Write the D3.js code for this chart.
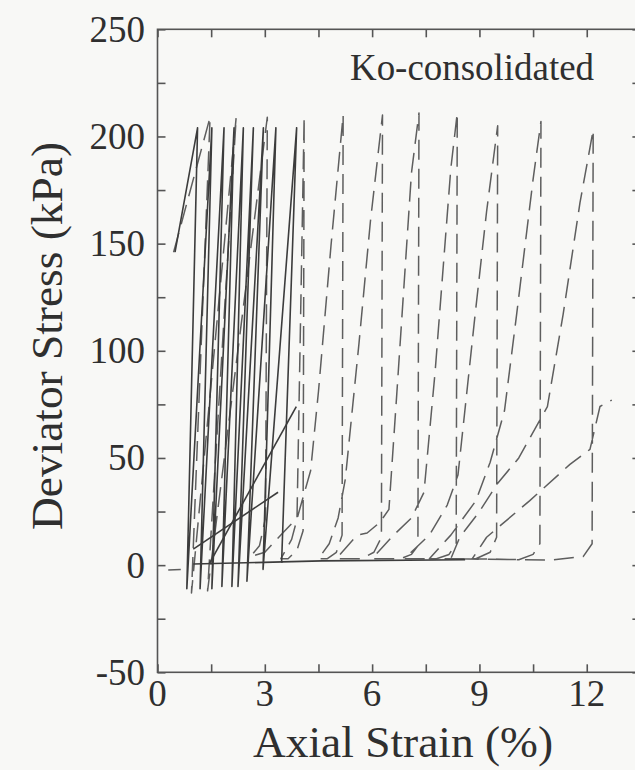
<!DOCTYPE html>
<html>
<head>
<meta charset="utf-8">
<script src="https://cdn.jsdelivr.net/npm/d3@7/dist/d3.min.js"></script>
<style>
  html, body { margin: 0; padding: 0; background: #f8f8f6; }
  svg { display: block; }
  text { font-family: "Liberation Serif", "Times New Roman", serif; fill: #2f2f2f; }
</style>
</head>
<body>
<svg id="chart" width="635" height="770"></svg>
<script>
// Axis ticks
const xMajorTicks = [0, 3, 6, 9, 12];
const xMinorTicks = [1.5, 4.5, 7.5, 10.5, 13.5];
const yMajorTicks = [-50, 0, 50, 100, 150, 200, 250];
const yMinorTicks = [-25, 25, 75, 125, 175, 225];

// Specimen A (solid line): axial strain (%) and deviator stress (kPa)
const solidStrain = [0.49, 1.12, 0.82, 1.52, 1.19, 1.86, 1.52, 2.14, 1.80, 2.40, 2.08, 2.68, 2.25, 2.96, 2.50, 3.31, 2.95, 3.89, 3.47, 4.6, 8.6];
const solidStress = [146, 204, -11, 204, -11, 204, -11, 204, -10, 204, -10, 204, -10, 204, -7.5, 204, -2, 204, 1.5, 2, 2.5];

// Specimen A, additional recorded traces
const solidTraceA = [[1.0, 7.5], [3.37, 34]];
const solidTraceB = [[1.45, 0.7], [3.88, 74]];
const solidTraceC = [[1.0, 0.5], [3.5, 1.5]];

// Specimen B (dashed line)
const dashStrain = [
  0.45, 1.47, 0.95, 2.20, 1.40, 3.07, 3.02, 2.85, 2.60,
  3.00, 3.50, 3.90, 4.10, 4.07, 3.90, 3.65, 3.45,
  3.75, 3.94, 4.28, 4.50, 4.85, 5.19, 5.16, 5.00, 4.75, 4.50,
  4.80, 5.05, 5.25, 5.63, 5.95, 6.29, 6.26, 6.05, 5.70, 5.00,
  5.58, 5.86, 6.22, 6.47, 6.69, 7.10, 7.31, 7.28, 7.10, 6.80, 6.00,
  6.60, 7.10, 7.45, 7.76, 8.20, 8.38, 8.35, 8.15, 7.80, 6.90,
  7.60, 8.10, 8.40, 8.88, 9.20, 9.51, 9.48, 9.30, 8.90, 7.60,
  8.20, 8.90, 9.30, 9.70, 10.04, 10.50, 10.72, 10.69, 10.50, 10.10, 8.20,
  8.45, 9.00, 9.50, 10.10, 10.90, 11.34, 11.81, 12.18, 12.15, 11.90, 11.00, 8.80,
  9.20, 10.40, 11.53, 12.09, 12.37, 12.70
];
const dashStress = [
  146, 209, -13, 209, -12, 209, 22, 9, 4,
  6, 15, 22, 209, 16, 7, 3, 3,
  12, 24, 44, 81, 149, 210, 14, 6, 3, 3,
  10, 22, 40, 103, 160, 210, 13, 6, 3, 3,
  14, 15, 20, 26, 80, 183, 211, 9, 5, 3, 3,
  14, 22, 34, 90, 185, 211, 10, 5, 3, 3,
  14, 28, 42, 117, 165, 205, 13, 6, 3, 3,
  14, 30, 48, 72, 117, 180, 207, 10, 5, 2.5, 3,
  13, 25, 38, 50, 74, 117, 169, 203, 10, 4, 2.3, 3,
  13, 30, 47, 54, 74, 77
];
const dashTraceStart = [[0.3, -2.3], [0.65, -2]];

const plot = { left: 157.5, right: 640.4, top: 29.3, bottom: 672.3 };

const svg = d3.select("#chart");

const x = d3.scaleLinear().domain([0, 13.5]).range([plot.left, plot.right]);
const y = d3.scaleLinear().domain([-50, 250]).range([plot.bottom, plot.top]);

const axisColor = "#555";
const tickLen = 8;

// Frame
svg.append("rect")
  .attr("x", plot.left).attr("y", plot.top)
  .attr("width", plot.right - plot.left).attr("height", plot.bottom - plot.top)
  .attr("fill", "none").attr("stroke", axisColor).attr("stroke-width", 1.6);

// Inward ticks on all four sides
const allX = xMajorTicks.concat(xMinorTicks);
const allY = yMajorTicks.concat(yMinorTicks);

function styleAxis(g) {
  g.select(".domain").remove();
  g.selectAll(".tick line").attr("stroke", axisColor).attr("stroke-width", 1.6);
  g.selectAll(".tick text").remove();
}

svg.append("g").attr("transform", `translate(0,${plot.bottom})`)
  .call(d3.axisBottom(x).tickValues(allX).tickSize(-tickLen)).call(styleAxis);
svg.append("g").attr("transform", `translate(0,${plot.top})`)
  .call(d3.axisTop(x).tickValues(allX).tickSize(-tickLen)).call(styleAxis);
svg.append("g").attr("transform", `translate(${plot.left},0)`)
  .call(d3.axisLeft(y).tickValues(allY).tickSize(-tickLen)).call(styleAxis);
svg.append("g").attr("transform", `translate(${plot.right},0)`)
  .call(d3.axisRight(y).tickValues(allY).tickSize(-tickLen)).call(styleAxis);

// Tick labels
svg.append("g").selectAll("text").data(xMajorTicks).join("text")
  .attr("x", d => x(d)).attr("y", 706)
  .attr("text-anchor", "middle").attr("font-size", 37)
  .text(d => d);

svg.append("g").selectAll("text").data(yMajorTicks).join("text")
  .attr("x", 145).attr("y", d => y(d))
  .attr("text-anchor", "end").attr("dominant-baseline", "central").attr("font-size", 37)
  .text(d => d);

// Axis titles
svg.append("text")
  .attr("x", 403).attr("y", 757)
  .attr("text-anchor", "middle").attr("font-size", 44)
  .attr("textLength", 300).attr("lengthAdjust", "spacingAndGlyphs")
  .text("Axial Strain (%)");

svg.append("text")
  .attr("transform", "translate(62,336) rotate(-90)")
  .attr("text-anchor", "middle").attr("font-size", 44)
  .attr("textLength", 388).attr("lengthAdjust", "spacingAndGlyphs")
  .text("Deviator Stress (kPa)");

// Panel label
svg.append("text")
  .attr("x", 350).attr("y", 80)
  .attr("font-size", 37)
  .attr("textLength", 244).attr("lengthAdjust", "spacingAndGlyphs")
  .text("Ko-consolidated");

// Stress-strain loops
const line = d3.line().x(d => x(d[0])).y(d => y(d[1]));
const solidPts = solidStrain.map((s, i) => [s, solidStress[i]]);
const dashPts = dashStrain.map((s, i) => [s, dashStress[i]]);

const curves = svg.append("g").attr("fill", "none")
  .attr("stroke-linejoin", "round").attr("stroke-linecap", "butt");

[dashPts, dashTraceStart].forEach(pts => {
  curves.append("path").datum(pts)
    .attr("d", line)
    .attr("stroke", "#5e5e5e").attr("stroke-width", 1.5)
    .attr("stroke-dasharray", "20,9");
});

[solidPts, solidTraceA, solidTraceB, solidTraceC].forEach(pts => {
  curves.append("path").datum(pts)
    .attr("d", line)
    .attr("stroke", "#3c3c3c").attr("stroke-width", 1.6);
});
</script>
</body>
</html>
